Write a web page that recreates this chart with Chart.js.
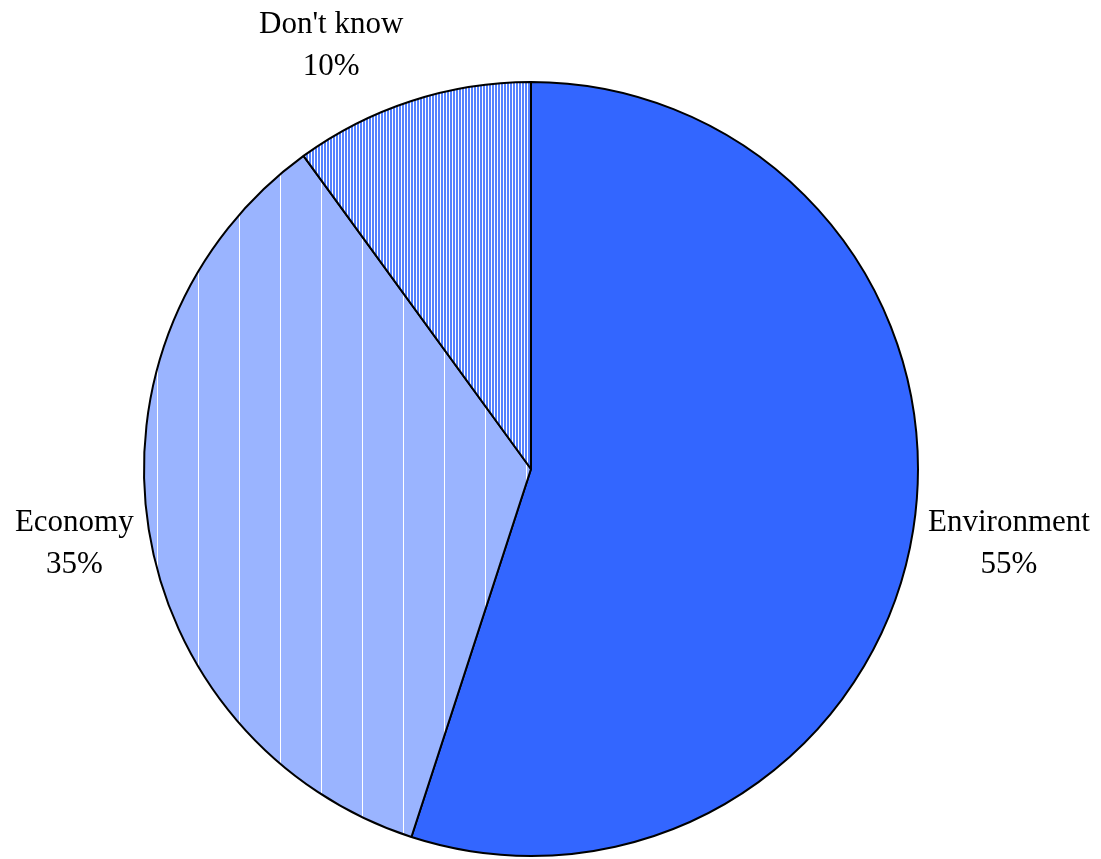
<!DOCTYPE html>
<html><head><meta charset="utf-8">
<script src="https://cdn.jsdelivr.net/npm/chart.js@4/dist/chart.umd.min.js"></script>
<style>html,body{margin:0;padding:0;background:#fff}#wrap{width:1101px;height:859px}</style>
</head><body><div id="wrap"><canvas id="c" width="1101" height="859"></canvas></div>
<script>
const categories = ["Environment", "Economy", "Don't know"];
const values = [55, 35, 10];
const percentLabels = ["55%", "35%", "10%"];

function stripePattern() {
  const c = document.createElement('canvas'); c.width = 3; c.height = 3;
  const x = c.getContext('2d');
  x.fillStyle = '#fff'; x.fillRect(0,0,3,3);
  x.fillStyle = '#5582FF'; x.fillRect(0,0,2,3);
  return x.createPattern(c, 'repeat');
}
function gridPattern() {
  const W = 41, H = 41;
  const c = document.createElement('canvas'); c.width = W; c.height = H;
  const x = c.getContext('2d');
  x.fillStyle = '#9AB4FF'; x.fillRect(0,0,W,H);
  x.fillStyle = '#fff'; x.fillRect(34,0,1,H);
  return x.createPattern(c, 'repeat');
}

const labelNudge = [[0,5],[0,5],[-53,0]];
const labelPlugin = {
  id: 'outLabels',
  afterDatasetsDraw(chart) {
    const ctx = chart.ctx;
    const meta = chart.getDatasetMeta(0);
    ctx.save();
    ctx.font = '31px "Liberation Serif", "Times New Roman", serif';
    ctx.fillStyle = '#000';
    ctx.textAlign = 'center';
    ctx.textBaseline = 'middle';
    meta.data.forEach((arc, i) => {
      const p = arc.getProps(['x','y','startAngle','endAngle','outerRadius'], true);
      const mid = (p.startAngle + p.endAngle) / 2;
      const dx = Math.cos(mid), dy = Math.sin(mid);
      const r = p.outerRadius + 16;
      const lines = [categories[i], percentLabels[i]];
      const w = Math.max(...lines.map(t => ctx.measureText(t).width));
      const h = 84;
      const cx = p.x + dx * r + dx * w / 2 + labelNudge[i][0];
      const cy = p.y + dy * r + dy * h / 2 + labelNudge[i][1];
      ctx.fillText(lines[0], cx, cy - 21);
      ctx.fillText(lines[1], cx, cy + 21);
    });
    ctx.restore();
  }
};

new Chart(document.getElementById('c'), {
  type: 'pie',
  data: {
    labels: categories,
    datasets: [{
      data: values,
      backgroundColor: ['#3366FF', gridPattern(), stripePattern()],
      borderColor: '#000',
      borderWidth: 2
    }]
  },
  options: {
    responsive: false,
    animation: false,
    layout: { padding: { left: 143, right: 182, top: 81, bottom: 2 } },
    plugins: { legend: { display: false }, tooltip: { enabled: false } }
  },
  plugins: [labelPlugin]
});
</script>
</body></html>
